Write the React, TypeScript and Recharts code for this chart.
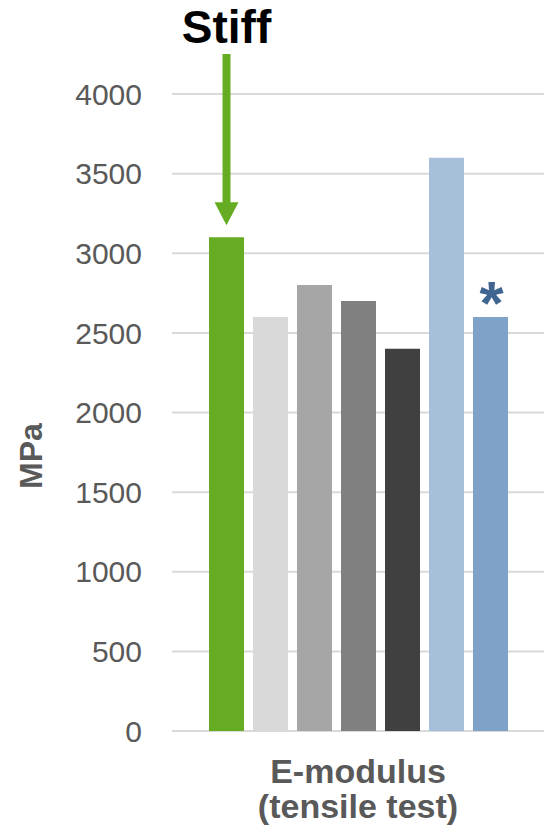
import { BarChart, Bar, XAxis, YAxis, CartesianGrid } from "recharts"

// E-modulus values (MPa), one bar per material
const categories = ["E-modulus (tensile test)"]
const seriesKeys = ["m1", "m2", "m3", "m4", "m5", "m6", "m7"]
const seriesValues = [3100, 2600, 2800, 2700, 2400, 3600, 2600]
const seriesColors = ["#66AC22", "#D9D9D9", "#A6A6A6", "#808080", "#404040", "#A7C0DA", "#7EA2C8"]
const yTicks = [0, 500, 1000, 1500, 2000, 2500, 3000, 3500, 4000]

const data = categories.map((name) => {
  const row: Record<string, string | number> = { name }
  seriesKeys.forEach((k, i) => (row[k] = seriesValues[i]))
  return row
})

const FONT = "'Liberation Sans', Arial, sans-serif"
const GREY = "#595959"

const XTick = (props: any) => {
  const { x, y } = props
  return (
    <text x={x} y={y} textAnchor="middle" fill={GREY} fontFamily={FONT} fontSize={34} fontWeight="bold">
      <tspan x={x} dy={52}>E-modulus</tspan>
      <tspan x={x} dy={35}>(tensile test)</tspan>
    </text>
  )
}

// "Stiff" arrow pointing down at the first bar
const StiffLabel = (props: any) => {
  const { x, y, width } = props
  const cx = x + width / 2
  const tip = y - 12
  return (
    <g>
      <text x={cx} y={43} textAnchor="middle" fill="#000" fontFamily={FONT} fontSize={46} fontWeight="bold">
        Stiff
      </text>
      <line x1={cx} x2={cx} y1={54} y2={tip - 20} stroke="#66AC22" strokeWidth={8} />
      <polygon points={`${cx - 12},${tip - 23} ${cx + 12},${tip - 23} ${cx},${tip}`} fill="#66AC22" />
    </g>
  )
}

const StarLabel = (props: any) => {
  const { x, y, width } = props
  return (
    <text x={x + width / 2 + 1} y={y + 7} textAnchor="middle" fill="#3F6590" fontFamily={FONT} fontSize={62} fontWeight="bold">
      *
    </text>
  )
}

const MpaLabel = () => (
  <text
    x={0}
    y={0}
    transform="translate(42,456) rotate(-90)"
    textAnchor="middle"
    fill={GREY}
    fontFamily={FONT}
    fontSize={32}
    fontWeight="bold"
  >
    MPa
  </text>
)

export default function App() {
  return (
    <div style={{ position: "absolute", left: 0, top: 0, background: "#fff" }}>
      <BarChart
        width={544}
        height={834}
        data={data}
        margin={{ top: 94, right: 0, left: 0, bottom: 0 }}
        barCategoryGap="10%"
        barGap={9}
      >
        <CartesianGrid vertical={false} stroke="#D9D9D9" strokeWidth={2} />
        <XAxis
          dataKey="name"
          height={103}
          tick={<XTick />}
          tickLine={false}
          axisLine={false}
          tickSize={0}
          tickMargin={0}
        />
        <YAxis
          width={172}
          domain={[0, 4000]}
          ticks={yTicks}
          tickLine={false}
          axisLine={false}
          tickSize={0}
          tickMargin={30}
          tick={{ fill: GREY, fontSize: 30, fontFamily: FONT }}
          label={<MpaLabel />}
        />
        {seriesKeys.map((k, i) => (
          <Bar
            key={k}
            dataKey={k}
            fill={seriesColors[i]}
            barSize={35}
            isAnimationActive={false}
            label={i === 0 ? <StiffLabel /> : i === 6 ? <StarLabel /> : false}
          />
        ))}
      </BarChart>
    </div>
  )
}
